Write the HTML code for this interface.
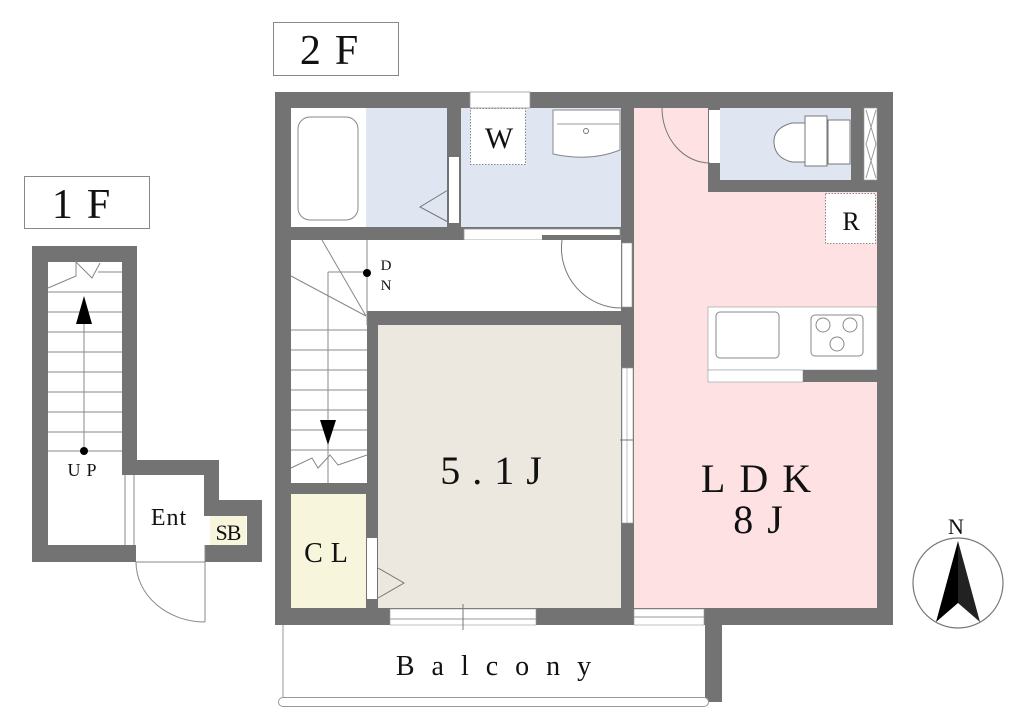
<!DOCTYPE html>
<html><head><meta charset="utf-8"><style>
html,body{margin:0;padding:0;background:#fff;}
svg{display:block;}
text{font-family:"Liberation Serif",serif;fill:#111;}
</style></head><body>
<svg width="1024" height="726" viewBox="0 0 1024 726" xmlns="http://www.w3.org/2000/svg">
<!-- labels -->
<rect x="273.5" y="22.5" width="125" height="53" fill="#fff" stroke="#888"/>
<text x="336" y="64" font-size="42" text-anchor="middle" letter-spacing="14">2F</text>
<rect x="24.5" y="176.5" width="125" height="52" fill="#fff" stroke="#888"/>
<text x="88" y="218" font-size="42" text-anchor="middle" letter-spacing="14">1F</text>

<!-- 2F outer walls -->
<rect x="275" y="92" width="618" height="533" fill="#737373"/>
<!-- bath -->
<rect x="291" y="108" width="75" height="119" fill="#fff"/>
<rect x="298" y="117" width="60" height="103" rx="12" fill="#fff" stroke="#888"/>
<rect x="366" y="108" width="81" height="119" fill="#dfe5f1"/>
<rect x="449" y="157" width="10" height="66" fill="#fff"/>
<polyline points="448,190 420,207 448,222" fill="none" stroke="#777"/>
<!-- washroom -->
<rect x="461" y="108" width="160" height="119" fill="#dfe5f1"/>
<rect x="470" y="92" width="60" height="16" fill="#fff" stroke="#999" stroke-width="0.8"/>
<rect x="470.5" y="108.5" width="55" height="56" fill="#fff" stroke="#888" stroke-dasharray="1.5,1.5"/>
<text x="499" y="148" font-size="30" text-anchor="middle">W</text>
<path d="M553,110 H620 V150 Q590,162 553,154 Z" fill="#fff" stroke="#888"/>
<line x1="557" y1="124" x2="620" y2="124" stroke="#999"/>
<circle cx="586" cy="131" r="2.5" fill="#fff" stroke="#777"/>
<rect x="464" y="229" width="156" height="11" fill="#fff" stroke="#999" stroke-width="0.8"/>
<rect x="542" y="235" width="78" height="5" fill="#737373"/>
<!-- corridor + stairs -->
<rect x="291" y="240" width="330" height="71" fill="#fff"/>
<rect x="291" y="311" width="76" height="172" fill="#fff"/>
<g stroke="#888" stroke-width="1" fill="none">
<line x1="367" y1="240" x2="367" y2="325"/>
<line x1="322" y1="240" x2="366" y2="316"/>
<line x1="291" y1="276" x2="366" y2="316"/>
<polyline points="328,272 328,483"/>
<line x1="291" y1="330" x2="367" y2="330"/>
<line x1="291" y1="350" x2="367" y2="350"/>
<line x1="291" y1="370" x2="367" y2="370"/>
<line x1="291" y1="390" x2="367" y2="390"/>
<line x1="291" y1="410" x2="367" y2="410"/>
<line x1="291" y1="430" x2="367" y2="430"/>
<line x1="291" y1="450" x2="367" y2="450"/>
<polyline points="291,468 312,458 318,468 330,455 338,465 367,455"/>
<line x1="328" y1="272" x2="367" y2="272"/>
</g>
<circle cx="367" cy="273" r="4" fill="#000"/>
<polygon points="328,445 320,420 336,420" fill="#000"/>
<text x="386" y="270" font-size="15" text-anchor="middle">D</text>
<text x="386" y="290" font-size="15" text-anchor="middle">N</text>
<rect x="622" y="243" width="10" height="64" fill="#fff" stroke="#999" stroke-width="0.6"/>
<path d="M562,240 A60,60 0 0 0 622,308" fill="none" stroke="#777"/>
<!-- 5.1J -->
<rect x="378" y="325" width="243" height="283" fill="#ece8df"/>
<rect x="622" y="368" width="11" height="155" fill="#fff" stroke="#999" stroke-width="0.6"/>
<line x1="627" y1="368" x2="627" y2="523" stroke="#999" stroke-width="0.6"/>
<line x1="620" y1="440" x2="636" y2="440" stroke="#777"/>
<text x="497" y="484" font-size="40" text-anchor="middle" letter-spacing="12">5.1J</text>
<!-- CL -->
<rect x="291" y="494" width="75" height="114" fill="#f7f5dc"/>
<rect x="367" y="538" width="10" height="61" fill="#fff"/>
<polyline points="378,568 404,583 378,598" fill="none" stroke="#777"/>
<text x="330" y="562" font-size="28" text-anchor="middle" letter-spacing="8">CL</text>
<!-- LDK -->
<rect x="634" y="108" width="243" height="500" fill="#fde1e3"/>
<rect x="708" y="108" width="169" height="84" fill="#737373"/>
<rect x="720" y="108" width="131" height="72" fill="#dfe5f1"/>
<rect x="709" y="110" width="11" height="53" fill="#fff"/>
<path d="M662,108 A48,55 0 0 0 710,163" fill="none" stroke="#777"/>
<rect x="864" y="108" width="13" height="72" fill="#fff" stroke="#999" stroke-width="0.6"/>
<polyline points="866,110 876,144 866,178" fill="none" stroke="#999"/>
<polyline points="876,110 866,144 876,178" fill="none" stroke="#999"/>
<path d="M808,123 H792 Q773,128 774,143 Q775,158 792,162 H808 Z" fill="#fff" stroke="#777"/>
<rect x="805" y="116" width="22" height="50" fill="#fff" stroke="#777"/>
<rect x="828" y="120" width="22" height="44" fill="#fff" stroke="#777"/>
<rect x="825.5" y="193.5" width="50" height="50" fill="#fff" stroke="#888" stroke-dasharray="1.5,1.5"/>
<text x="851" y="230" font-size="26" text-anchor="middle">R</text>
<rect x="708" y="307" width="169" height="63" fill="#fff" stroke="#999" stroke-width="0.6"/>
<rect x="716" y="312" width="63" height="46" rx="4" fill="#fff" stroke="#888"/>
<rect x="811" y="315" width="52" height="41" rx="4" fill="#fff" stroke="#888"/>
<circle cx="823" cy="325" r="7" fill="none" stroke="#888"/>
<circle cx="850" cy="325" r="7" fill="none" stroke="#888"/>
<circle cx="837" cy="344" r="7" fill="none" stroke="#888"/>
<rect x="708" y="370" width="95" height="12" fill="#fff" stroke="#999" stroke-width="0.6"/>
<rect x="803" y="370" width="74" height="12" fill="#737373"/>
<text x="763" y="492" font-size="40" text-anchor="middle" letter-spacing="14">LDK</text>
<text x="765" y="533" font-size="40" text-anchor="middle" letter-spacing="14">8J</text>
<!-- bottom windows -->
<rect x="390" y="609" width="146" height="16" fill="#fff" stroke="#999" stroke-width="0.6"/>
<line x1="390" y1="619" x2="536" y2="619" stroke="#999"/>
<line x1="463" y1="604" x2="463" y2="630" stroke="#777"/>
<rect x="634" y="609" width="70" height="16" fill="#fff" stroke="#999" stroke-width="0.6"/>
<line x1="634" y1="617" x2="704" y2="617" stroke="#999"/>
<!-- balcony -->
<rect x="705" y="608" width="17" height="94" fill="#737373"/>
<line x1="283" y1="625" x2="283" y2="697" stroke="#999"/>
<rect x="278.5" y="697.5" width="430" height="9" rx="4.5" fill="#fff" stroke="#999"/>
<text x="502" y="675" font-size="28" text-anchor="middle" letter-spacing="17">Balcony</text>

<!-- 1F -->
<path d="M32,246 H137 V460 H219 V500 H262 V562 H32 Z" fill="#737373"/>
<rect x="48" y="262" width="74" height="283" fill="#fff"/>
<rect x="122" y="475" width="82" height="70" fill="#fff"/>
<rect x="204" y="516" width="43" height="29" fill="#fff"/>
<rect x="210" y="516" width="36" height="29" fill="#f7f5dc"/>
<rect x="136" y="545" width="69" height="17" fill="#fff"/>
<g stroke="#888" stroke-width="1" fill="none">
<line x1="48" y1="292" x2="122" y2="292"/>
<line x1="48" y1="312" x2="122" y2="312"/>
<line x1="48" y1="332" x2="122" y2="332"/>
<line x1="48" y1="352" x2="122" y2="352"/>
<line x1="48" y1="372" x2="122" y2="372"/>
<line x1="48" y1="392" x2="122" y2="392"/>
<line x1="48" y1="412" x2="122" y2="412"/>
<line x1="48" y1="432" x2="122" y2="432"/>
<line x1="48" y1="451" x2="122" y2="451"/>
<line x1="98" y1="272" x2="122" y2="272"/>
<polyline points="48,288 76,276 76,262 92,278 100,263"/>
<line x1="84" y1="320" x2="84" y2="451"/>
<line x1="125" y1="475" x2="125" y2="545"/>
<line x1="134" y1="475" x2="134" y2="545"/>
<line x1="136" y1="562" x2="205" y2="562"/>
<line x1="205" y1="545" x2="205" y2="622"/>
<path d="M136,562 A69,60 0 0 0 205,622"/>
</g>
<polygon points="84,296 76,324 92,324" fill="#000"/>
<circle cx="84" cy="451" r="4" fill="#000"/>
<text x="85" y="476" font-size="18" text-anchor="middle" letter-spacing="6">UP</text>
<text x="169" y="525" font-size="24" text-anchor="middle" letter-spacing="1">Ent</text>
<text x="228" y="540" font-size="22" text-anchor="middle" letter-spacing="-1">SB</text>

<!-- compass -->
<circle cx="958" cy="583" r="45" fill="#fff" stroke="#777" stroke-width="1.2"/>
<polygon points="958,541 936,622 958,603" fill="#000"/>
<polygon points="958,541 980,622 958,603" fill="#222"/>
<text x="956" y="534" font-size="22" text-anchor="middle">N</text>
</svg>
</body></html>
